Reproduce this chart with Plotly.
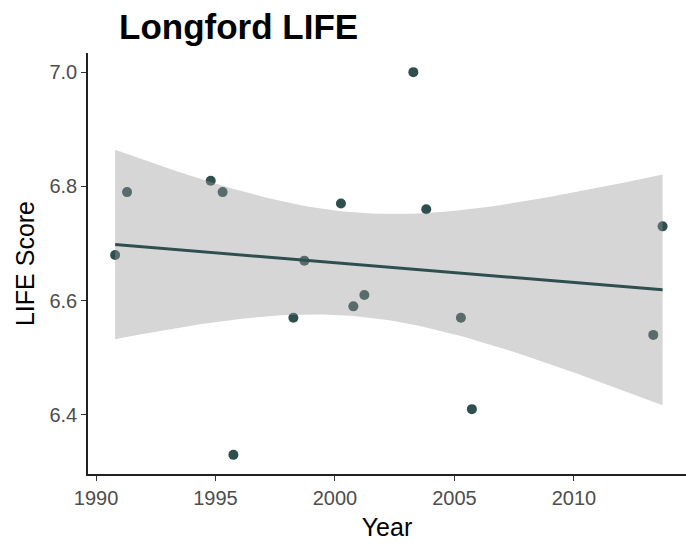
import numpy as np
import plotly.graph_objects as go

# LIFE score survey results for Longford, by (decimal) survey year
years = [1990.8, 1991.3, 1994.8, 1995.3, 1995.75, 1998.26, 1998.72, 2000.25,
         2000.77, 2001.23, 2003.28, 2003.82, 2005.27, 2005.73, 2013.32, 2013.71]
scores = [6.68, 6.79, 6.81, 6.79, 6.33, 6.57, 6.67, 6.77,
          6.59, 6.61, 7.00, 6.76, 6.57, 6.41, 6.54, 6.73]

y_ticks = [6.4, 6.6, 6.8, 7.0]
x_ticks = [1990, 1995, 2000, 2005, 2010]

# Linear model with a 95% confidence band (lm smoother)
x = np.array(years)
y = np.array(scores)
n = len(x)
slope, intercept = np.polyfit(x, y, 1)
resid = y - (intercept + slope * x)
s = np.sqrt(np.sum(resid ** 2) / (n - 2))
t_crit = 2.144787  # t(0.975, df = 14)
xs = np.linspace(x.min(), x.max(), 80)
fit = intercept + slope * xs
se = s * np.sqrt(1.0 / n + (xs - x.mean()) ** 2 / np.sum((x - x.mean()) ** 2))
upper = fit + t_crit * se
lower = fit - t_crit * se

line_col = "#2F4F4F"

fig = go.Figure()
fig.add_trace(go.Scatter(
    x=years, y=scores, mode="markers",
    marker=dict(size=10, color=line_col, line=dict(width=0)),
    hoverinfo="x+y", showlegend=False))
fig.add_trace(go.Scatter(
    x=np.concatenate([xs, xs[::-1]]), y=np.concatenate([upper, lower[::-1]]),
    mode="lines", fill="toself", fillcolor="rgba(153,153,153,0.4)",
    line=dict(width=0), hoverinfo="skip", showlegend=False))
fig.add_trace(go.Scatter(
    x=xs, y=fit, mode="lines", line=dict(color=line_col, width=3),
    hoverinfo="skip", showlegend=False))

axis_common = dict(
    showgrid=False, zeroline=False, showline=True, linecolor="#222222",
    linewidth=1.5, ticks="outside", ticklen=5, tickwidth=1.3,
    tickcolor="#333333", tickfont=dict(family="Liberation Sans", size=20, color="#4D4D4D"),
)

fig.update_layout(
    width=686, height=544,
    margin=dict(l=88, r=0, t=53, b=70),
    paper_bgcolor="white", plot_bgcolor="white",
    title=dict(text="<b>Longford LIFE</b>", x=119 / 686, xanchor="left",
               y=1 - 27 / 544, yanchor="middle",
               font=dict(family="Liberation Sans", size=35, color="black")),
    xaxis=dict(range=[1989.665, 2014.69], tickvals=x_ticks,
               title=dict(text="Year", standoff=11,
                          font=dict(family="Liberation Sans", size=25, color="black")),
               **axis_common),
    yaxis=dict(range=[6.2965, 7.0335], tickvals=y_ticks, tickformat=".1f",
               title=dict(text="LIFE Score", standoff=8,
                          font=dict(family="Liberation Sans", size=25, color="black")),
               **axis_common),
)

fig.write_html("out.html")
